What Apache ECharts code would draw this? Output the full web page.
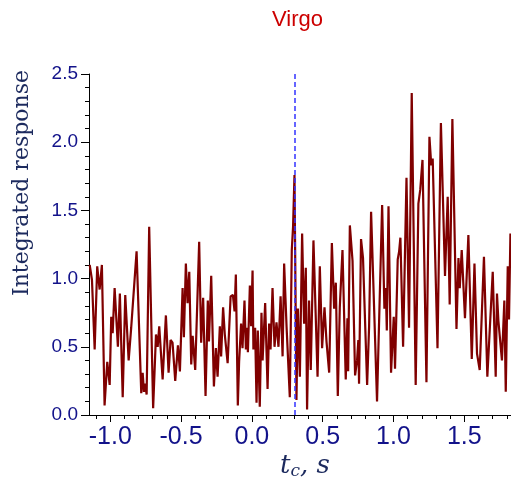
<!DOCTYPE html>
<html>
<head>
<meta charset="utf-8">
<script src="https://cdn.jsdelivr.net/npm/echarts@6/dist/echarts.min.js"></script>
<style>html,body{margin:0;padding:0;background:#fff}#c{width:511px;height:482px}</style>
</head>
<body>
<div id="c"></div>
<script>
// time offsets t_c (s)
const xs = [-1.145,-1.129,-1.110,-1.092,-1.075,-1.059,-1.040,-1.021,-1.004,-0.993,
-0.983,-0.969,-0.946,-0.932,-0.912,-0.894,-0.870,-0.852,-0.842,-0.814,
-0.781,-0.771,-0.762,-0.753,-0.743,-0.725,-0.697,-0.677,-0.665,-0.654,
-0.630,-0.607,-0.588,-0.574,-0.560,-0.541,-0.522,-0.508,-0.489,-0.480,
-0.466,-0.454,-0.442,-0.428,-0.418,-0.400,-0.372,-0.358,-0.344,-0.327,
-0.311,-0.303,-0.287,-0.268,-0.254,-0.242,-0.226,-0.217,-0.203,-0.191,
-0.181,-0.171,-0.150,-0.134,-0.122,-0.113,-0.099,-0.090,-0.076,-0.066,
-0.052,-0.042,-0.033,-0.028,-0.014,-0.005,0.005,0.011,0.023,0.033,
0.042,0.056,0.068,0.076,0.094,0.111,0.122,0.132,0.146,0.160,
0.174,0.188,0.203,0.217,0.228,0.245,0.268,0.282,0.291,0.301,
0.315,0.325,0.339,0.355,0.369,0.381,0.390,0.404,0.416,0.435,
0.464,0.480,0.496,0.513,0.527,0.546,0.565,0.581,0.593,0.607,
0.621,0.640,0.663,0.675,0.680,0.692,0.711,0.729,0.743,0.752,
0.757,0.771,0.785,0.814,0.828,0.842,0.884,0.920,0.936,0.946,
0.953,0.965,0.983,1.002,1.011,1.030,1.040,1.049,1.068,1.092,
1.110,1.129,1.157,1.176,1.189,1.205,1.233,1.254,1.267,1.277,
1.311,1.335,1.364,1.383,1.397,1.416,1.445,1.459,1.468,1.482,
1.505,1.529,1.553,1.572,1.590,1.609,1.639,1.663,1.701,1.722,
1.731,1.741,1.750,1.766,1.783,1.793,1.807,1.816,1.826];
// integrated response
const ys = [1.10,0.99,0.48,1.09,0.92,1.10,0.07,0.39,0.22,0.72,
0.60,0.93,0.50,0.89,0.13,0.88,0.40,0.64,0.65,1.20,
0.16,0.31,0.17,0.23,0.15,1.38,0.05,0.59,0.50,0.65,
0.26,0.73,0.31,0.55,0.53,0.25,0.51,0.32,0.93,0.57,
1.11,0.82,1.05,0.37,0.58,0.33,1.27,0.53,0.86,0.14,
0.84,0.54,1.02,0.21,0.49,0.28,0.65,0.43,0.79,0.59,
0.60,0.38,0.87,0.88,0.76,1.03,0.07,0.39,0.67,0.49,
0.84,0.48,0.64,0.46,0.95,0.65,1.06,0.48,0.64,0.09,
0.62,0.06,0.75,0.40,0.82,0.19,0.67,0.48,0.93,0.50,
0.68,0.50,0.87,0.43,1.11,0.65,0.13,1.21,1.38,1.76,
0.11,0.78,0.28,1.33,0.67,1.08,0.04,0.84,0.33,1.28,
0.28,1.09,0.49,0.79,0.54,0.31,1.26,0.78,0.97,0.14,
0.79,1.21,0.26,0.71,0.32,1.39,1.13,0.29,0.40,0.55,
0.23,1.29,1.15,0.22,0.65,1.49,0.10,1.54,0.78,0.93,
0.62,1.53,0.31,0.72,0.34,1.14,1.20,1.30,0.50,1.74,
0.64,2.36,0.22,1.55,1.65,1.87,0.24,2.04,1.83,1.88,
0.49,2.14,1.02,1.60,0.81,2.17,0.63,1.15,0.93,1.21,
0.71,1.32,0.41,1.11,0.45,0.33,1.16,0.28,1.05,0.28,
0.89,0.69,0.68,0.40,0.84,0.17,1.09,0.70,1.33];
const xMajorTicks = [-1.0,-0.5,0.0,0.5,1.0,1.5];
const xMinorTicks = [-1.1,-1.0,-0.9,-0.8,-0.7,-0.6,-0.5,-0.4,-0.3,-0.2,-0.1,0.0,0.1,0.2,0.3,0.4,0.5,0.6,0.7,0.8,0.9,1.0,1.1,1.2,1.3,1.4,1.5,1.6,1.7,1.8];
const eventTime = 0.3;
const titleText = 'Virgo';
const yName = 'Integrated response';

const chart = echarts.init(document.getElementById('c'));
const labelColor = '#12128a';
const nameColor = '#1c2a5e';
chart.setOption({
  animation: false,
  backgroundColor: '#fff',
  title: {
    text: titleText, left: 267, top: 4,
    textStyle: {color: '#cc0000', fontFamily: 'Liberation Sans', fontSize: 22, fontWeight: 'normal'}
  },
  grid: {left: 89, right: 0, top: 74, bottom: 67, containLabel: false},
  xAxis: [{
    type: 'value', min: -1.15, max: 1.83, position: 'bottom',
    axisLine: {show: true, onZero: false, lineStyle: {color: '#000', width: 1}},
    axisTick: {show: true, customValues: xMajorTicks, length: 7, lineStyle: {color: '#000'}},
    axisLabel: {
      customValues: xMajorTicks, margin: 10, color: labelColor,
      fontFamily: 'Liberation Sans', fontSize: 25,
      formatter: v => v.toFixed(1)
    },
    splitLine: {show: false}
  }, {
    type: 'value', min: -1.15, max: 1.83, position: 'bottom', offset: 0,
    axisLine: {show: false},
    axisTick: {show: true, customValues: xMinorTicks, length: 4, lineStyle: {color: '#000'}},
    axisLabel: {show: false},
    splitLine: {show: false}
  }],
  yAxis: {
    type: 'value', min: 0, max: 2.5, interval: 0.5,
    axisLine: {show: true, onZero: false, lineStyle: {color: '#000', width: 1}},
    axisTick: {show: true, length: 8, lineStyle: {color: '#000'}},
    minorTick: {show: true, splitNumber: 5, length: 4, lineStyle: {color: '#000'}},
    axisLabel: {margin: 11, color: labelColor, fontFamily: 'Liberation Sans', fontSize: 19,
      formatter: v => v.toFixed(1)},
    splitLine: {show: false}
  },
  graphic: [{
    type: 'text', x: 22, y: 183, rotation: Math.PI / 2,
    style: {text: yName, fill: nameColor, font: '22px "DejaVu Serif"', align: 'center', verticalAlign: 'middle'}
  }, {
    type: 'text', x: 305, y: 466,
    style: {
      text: '{t|t}{c|c}{t|, s}', align: 'center', verticalAlign: 'middle',
      rich: {
        t: {fill: nameColor, fontFamily: 'DejaVu Serif', fontStyle: 'italic', fontSize: 26},
        c: {fill: nameColor, fontFamily: 'DejaVu Serif', fontStyle: 'italic', fontSize: 17, padding: [12, 0, 0, 0]}
      }
    }
  }],
  series: [{
    type: 'line', xAxisIndex: 0,
    data: xs.map((x, i) => [x, ys[i]]),
    showSymbol: false, symbol: 'none',
    lineStyle: {color: '#800000', width: 2.2},
    z: 3,
    markLine: {
      silent: true, symbol: 'none', animation: false,
      label: {show: false},
      lineStyle: {color: '#3333ff', type: [5, 3], width: 1.5},
      data: [{xAxis: eventTime}]
    }
  }]
});
</script>
</body>
</html>
